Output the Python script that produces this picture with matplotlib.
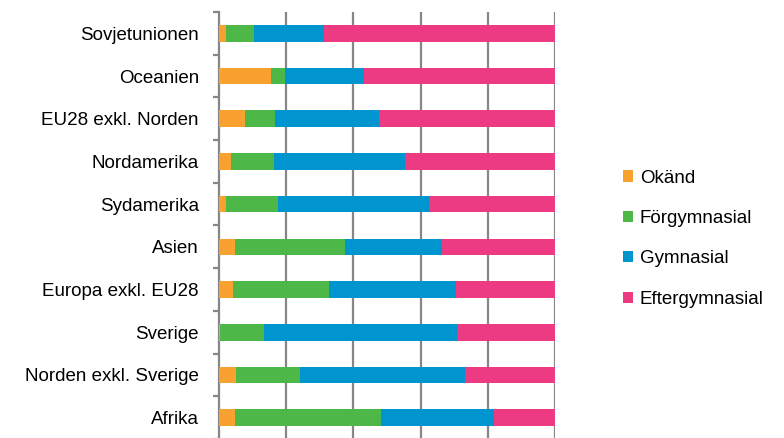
import numpy as np
import matplotlib.pyplot as plt
from matplotlib.patches import Patch
from matplotlib.ticker import FixedLocator

plt.rcParams['font.family'] = ['Liberation Sans', 'DejaVu Sans']

# Categories, top to bottom
regions = ['Sovjetunionen', 'Oceanien', 'EU28 exkl. Norden', 'Nordamerika', 'Sydamerika',
           'Asien', 'Europa exkl. EU28', 'Sverige', 'Norden exkl. Sverige', 'Afrika']

# Shares in percent
okand = [2.0, 15.5, 7.7, 3.6, 2.0, 4.7, 4.1, 0.4, 5.0, 4.7]
forgymnasial = [8.3, 4.1, 8.9, 12.7, 15.5, 32.7, 28.6, 12.9, 19.0, 43.5]
gymnasial = [20.9, 23.5, 31.1, 39.0, 45.0, 28.9, 37.8, 57.6, 49.2, 33.6]
eftergymnasial = [68.8, 56.9, 52.3, 44.7, 37.5, 33.7, 29.5, 29.1, 26.8, 18.2]

series = ['Okänd', 'Förgymnasial', 'Gymnasial', 'Eftergymnasial']
colors = ['#F9A12E', '#4DB848', '#0095CF', '#EC3A83']

fig = plt.figure(figsize=(7.84, 4.38), dpi=100)
ax = fig.add_axes([0.2793, -0.0023, 0.4286, 0.975])

y = np.arange(len(regions))
left = np.zeros(len(regions))
for vals, col in zip([okand, forgymnasial, gymnasial, eftergymnasial], colors):
    ax.barh(y, vals, left=left, height=0.39, color=col, zorder=3)
    left += np.array(vals)

ax.set_xlim(0, 100)
ax.set_ylim(len(regions) - 0.5, -0.5)

# vertical gridlines
ax.set_xticks([20, 40, 60, 80, 100])
ax.xaxis.grid(True, color='#868686', linewidth=1.6, zorder=1)
ax.tick_params(axis='x', length=0, labelbottom=False)

# category labels + boundary ticks
ax.set_yticks(y)
ax.set_yticklabels(regions, fontsize=13.5)
ax.tick_params(axis='y', which='major', length=0, pad=14.4)
ax.yaxis.set_minor_locator(FixedLocator(np.arange(-0.5, len(regions), 1)))
ax.tick_params(axis='y', which='minor', length=4.5, width=1.6, color='#868686')

for s in ['top', 'right', 'bottom']:
    ax.spines[s].set_visible(False)
ax.spines['left'].set_color('#868686')
ax.spines['left'].set_linewidth(1.6)

handles = [Patch(facecolor=c, label=l) for c, l in zip(colors, series)]
fig.legend(handles=handles, loc='center left', bbox_to_anchor=(0.773, 0.455),
           frameon=False, fontsize=13.5, handlelength=0.55, handleheight=0.55,
           handletextpad=0.35, labelspacing=1.25)

fig.savefig('out.png', dpi=100)
